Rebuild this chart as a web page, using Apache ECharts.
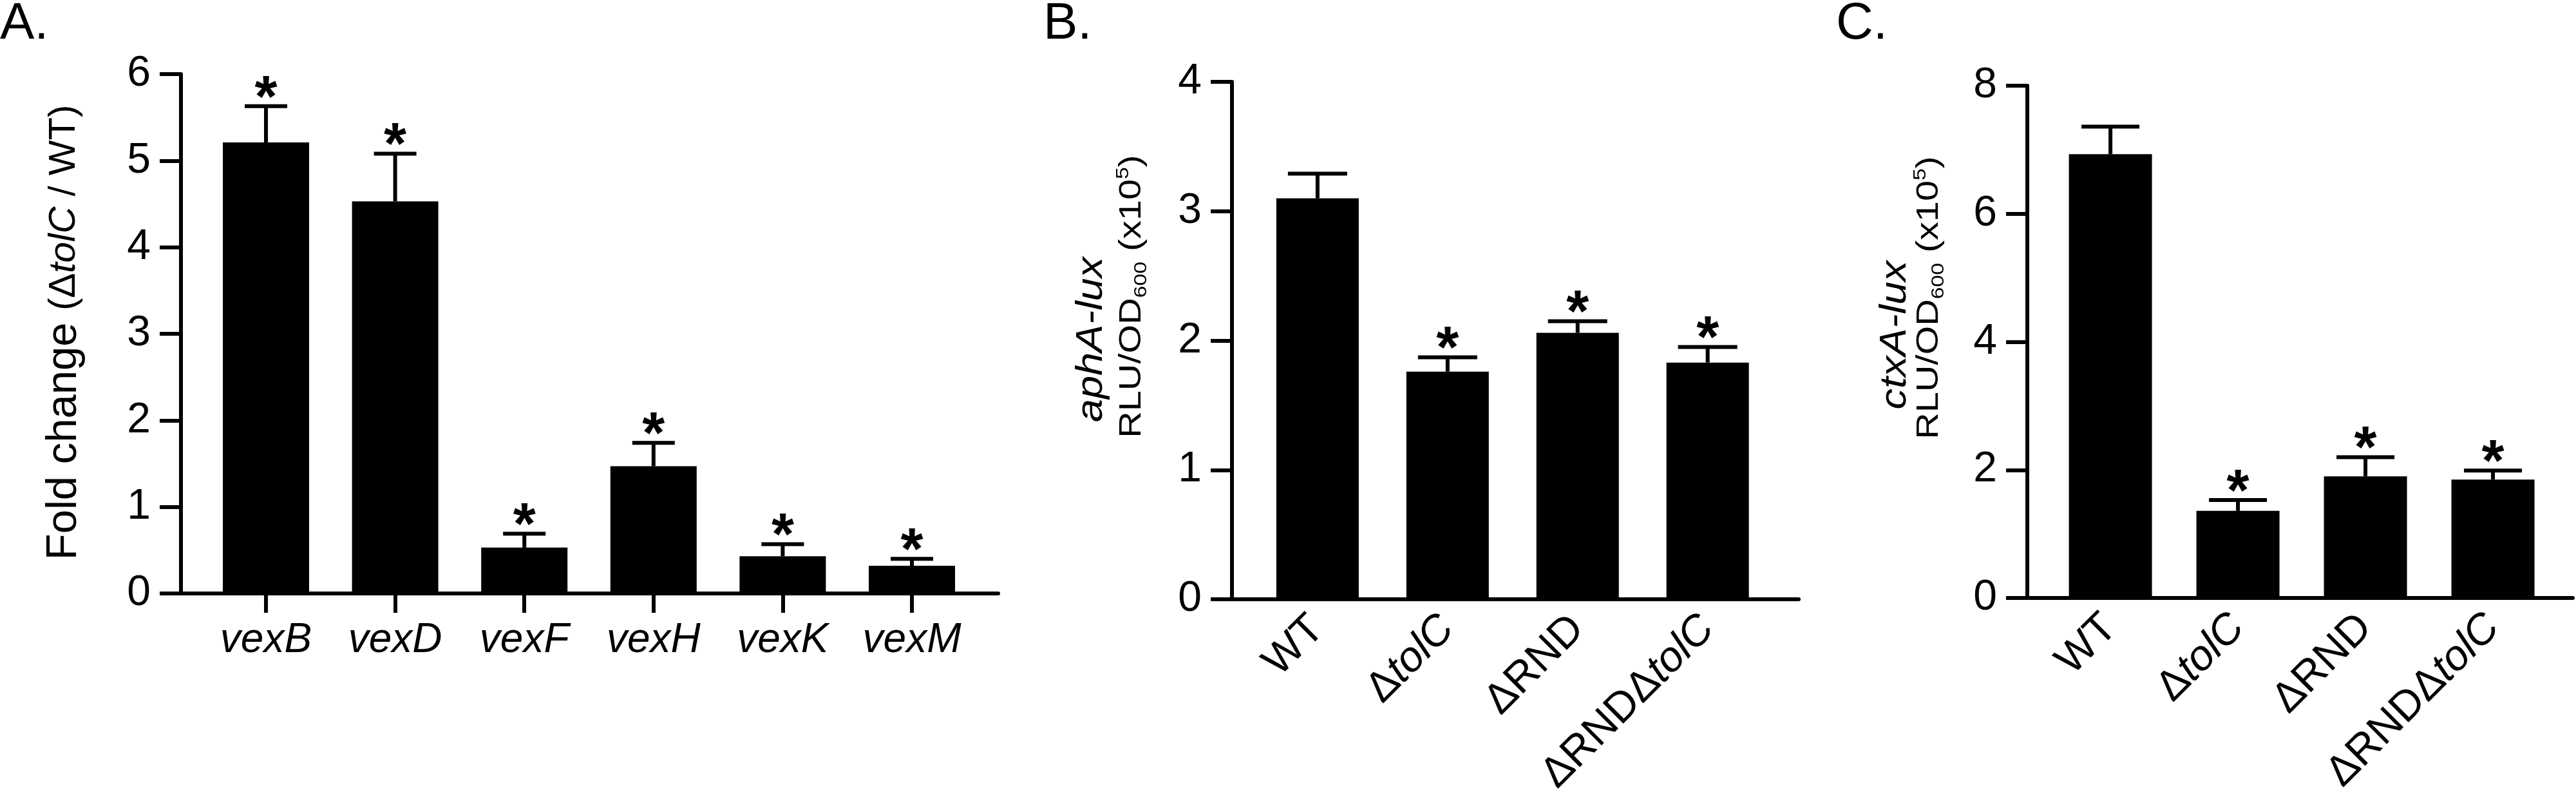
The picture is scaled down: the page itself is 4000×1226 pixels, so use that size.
<!DOCTYPE html>
<html><head><meta charset="utf-8">
<script src="https://cdn.jsdelivr.net/npm/echarts@6/dist/echarts.min.js"></script>
<style>html,body{margin:0;padding:0;background:#fff}#c{width:4000px;height:1226px}</style>
</head><body><div id="c"></div>
<script>
const FONT = '"Liberation Sans", Arial, sans-serif';

// ---- Panel A: fold change (ΔtolC / WT)
const catsA = ['vexB', 'vexD', 'vexF', 'vexH', 'vexK', 'vexM'];
const meanA = [5.21, 4.53, 0.53, 1.47, 0.43, 0.32];
const semA  = [0.42, 0.55, 0.16, 0.27, 0.14, 0.08];
const sigA  = [1, 1, 1, 1, 1, 1];
const ticksA = [0, 1, 2, 3, 4, 5, 6];

// ---- Panel B: aphA-lux
const catsB = ['WT', 'ΔtolC', 'ΔRND', 'ΔRNDΔtolC'];
const meanB = [3.10, 1.76, 2.06, 1.83];
const semB  = [0.19, 0.11, 0.09, 0.12];
const sigB  = [0, 1, 1, 1];
const ticksB = [0, 1, 2, 3, 4];

// ---- Panel C: ctxA-lux
const catsC = ['WT', 'ΔtolC', 'ΔRND', 'ΔRNDΔtolC'];
const meanC = [6.93, 1.36, 1.90, 1.85];
const semC  = [0.43, 0.17, 0.30, 0.14];
const sigC  = [0, 1, 1, 1];
const ticksC = [0, 2, 4, 6, 8];

const chart = echarts.init(document.getElementById('c'), null, {renderer: 'canvas'});

function catRich(name, allItalic) {
  if (allItalic) return '{i|' + name + '}';
  const parts = name.split('tolC');
  let s = '';
  parts.forEach((p, k) => {
    if (p) s += '{n|' + p + '}';
    if (k < parts.length - 1) s += '{i|tolC}';
  });
  return s;
}

const panels = [
  {cats: catsA, mean: meanA, sem: semA, sig: sigA, ticks: ticksA,
   grid: {left: 281, top: 115, width: 1269, height: 806},
   xmin: 0.342, xmax: 6.668, barW: 134, capW: 66, italic: true, rotate: 0, xTicks: true,
   labelMargin: 41, labelSize: 64},
  {cats: catsB, mean: meanB, sem: semB, sig: sigB, ticks: ticksB,
   grid: {left: 1913, top: 127, width: 880, height: 803},
   xmin: 0.342, xmax: 4.70, barW: 128, capW: 92, italic: false, rotate: 45, xTicks: false,
   labelMargin: 36, labelSize: 66},
  {cats: catsC, mean: meanC, sem: semC, sig: sigC, ticks: ticksC,
   grid: {left: 3148, top: 133, width: 847, height: 795},
   xmin: 0.348, xmax: 4.626, barW: 129, capW: 90, italic: false, rotate: 45, xTicks: false,
   labelMargin: 36, labelSize: 66}
];

const grids = [], xAxes = [], yAxes = [], series = [];
panels.forEach((p, gi) => {
  grids.push(Object.assign({containLabel: false, outerBoundsMode: 'none'}, p.grid));
  const pos = p.cats.map((c, i) => i + 1);
  xAxes.push({
    type: 'value', gridIndex: gi, min: p.xmin, max: p.xmax,
    splitLine: {show: false},
    axisLine: {show: true, onZero: true, lineStyle: {color: '#000', width: 6}},
    axisTick: {show: p.xTicks, customValues: pos, length: 30, lineStyle: {color: '#000', width: 6}},
    axisLabel: {
      show: true, customValues: pos, margin: p.labelMargin, rotate: p.rotate,
      formatter: (v) => catRich(p.cats[Math.round(v) - 1], p.italic),
      rich: {
        n: {fontFamily: FONT, fontSize: p.labelSize, color: '#000'},
        i: {fontFamily: FONT, fontSize: p.labelSize, color: '#000', fontStyle: 'italic'}
      }
    }
  });
  yAxes.push({
    type: 'value', gridIndex: gi,
    min: p.ticks[0], max: p.ticks[p.ticks.length - 1], interval: p.ticks[1] - p.ticks[0],
    splitLine: {show: false},
    axisLine: {show: true, lineStyle: {color: '#000', width: 6}},
    axisTick: {show: true, length: 33, lineStyle: {color: '#000', width: 6}},
    axisLabel: {fontFamily: FONT, fontSize: 66, color: '#000', margin: 47}
  });
  series.push({
    type: 'bar', xAxisIndex: gi, yAxisIndex: gi, barWidth: p.barW,
    itemStyle: {color: '#000'},
    data: p.cats.map((c, i) => [pos[i], p.mean[i]])
  });
  series.push({
    type: 'custom', xAxisIndex: gi, yAxisIndex: gi, z: 5, clip: false,
    data: p.cats.map((c, i) => [pos[i], p.mean[i], p.sem[i], p.sig[i]]),
    renderItem: function (params, api) {
      const x = api.value(0), m = api.value(1), e = api.value(2), s = api.value(3);
      const p0 = api.coord([x, m]), p1 = api.coord([x, m + e]);
      const ch = [
        {type: 'line', shape: {x1: p0[0], y1: p0[1], x2: p1[0], y2: p1[1]}, style: {stroke: '#000', lineWidth: 6}},
        {type: 'line', shape: {x1: p1[0] - p.capW / 2, y1: p1[1], x2: p1[0] + p.capW / 2, y2: p1[1]}, style: {stroke: '#000', lineWidth: 6}}
      ];
      if (s) ch.push({type: 'text', x: p1[0], y: p1[1] - 9,
        style: {text: '*', font: 'bold 90px ' + FONT, fill: '#000', align: 'center', verticalAlign: 'middle'}});
      return {type: 'group', children: ch};
    }
  });
});

const letter = (t, x) => ({type: 'text', x: x, y: 38,
  style: {text: t, font: '80px ' + FONT, fill: '#000', align: 'left', verticalAlign: 'middle'}});

const subRich = {
  m: {fontFamily: FONT, fontSize: 48, fill: '#000', lineHeight: 56},
  s: {fontFamily: FONT, fontSize: 28, fill: '#000', verticalAlign: 'bottom', lineHeight: 28},
  p: {fontFamily: FONT, fontSize: 28, fill: '#000', verticalAlign: 'top', lineHeight: 28}
};
const unitText = '{m|RLU/OD}{s|600}{m| (x10}{p|5}{m|)}';

const graphic = [
  letter('A.', 0), letter('B.', 1620), letter('C.', 2851),
  {type: 'text', x: 100, y: 516, rotation: Math.PI / 2,
   style: {text: '{a|Fold change }{b|(Δ}{c|tolC}{b| / WT)}', align: 'center', verticalAlign: 'middle',
     rich: {a: {fontFamily: FONT, fontSize: 67, fill: '#000'},
            b: {fontFamily: FONT, fontSize: 58, fill: '#000'},
            c: {fontFamily: FONT, fontSize: 58, fill: '#000', fontStyle: 'italic'}}}},
  {type: 'text', x: 1695, y: 527, rotation: Math.PI / 2, scaleX: 1.12,
   style: {text: 'aphA-lux', font: 'italic 58px ' + FONT, fill: '#000', align: 'center', verticalAlign: 'middle'}},
  {type: 'text', x: 1758, y: 460, rotation: Math.PI / 2, scaleX: 1.2,
   style: {text: unitText, align: 'center', verticalAlign: 'middle', rich: subRich}},
  {type: 'text', x: 2943, y: 520, rotation: Math.PI / 2, scaleX: 1.12,
   style: {text: 'ctxA-lux', font: 'italic 58px ' + FONT, fill: '#000', align: 'center', verticalAlign: 'middle'}},
  {type: 'text', x: 2996, y: 462, rotation: Math.PI / 2, scaleX: 1.2,
   style: {text: unitText, align: 'center', verticalAlign: 'middle', rich: subRich}}
];

chart.setOption({
  animation: false,
  backgroundColor: '#fff',
  grid: grids, xAxis: xAxes, yAxis: yAxes, series: series, graphic: graphic
});
</script></body></html>
